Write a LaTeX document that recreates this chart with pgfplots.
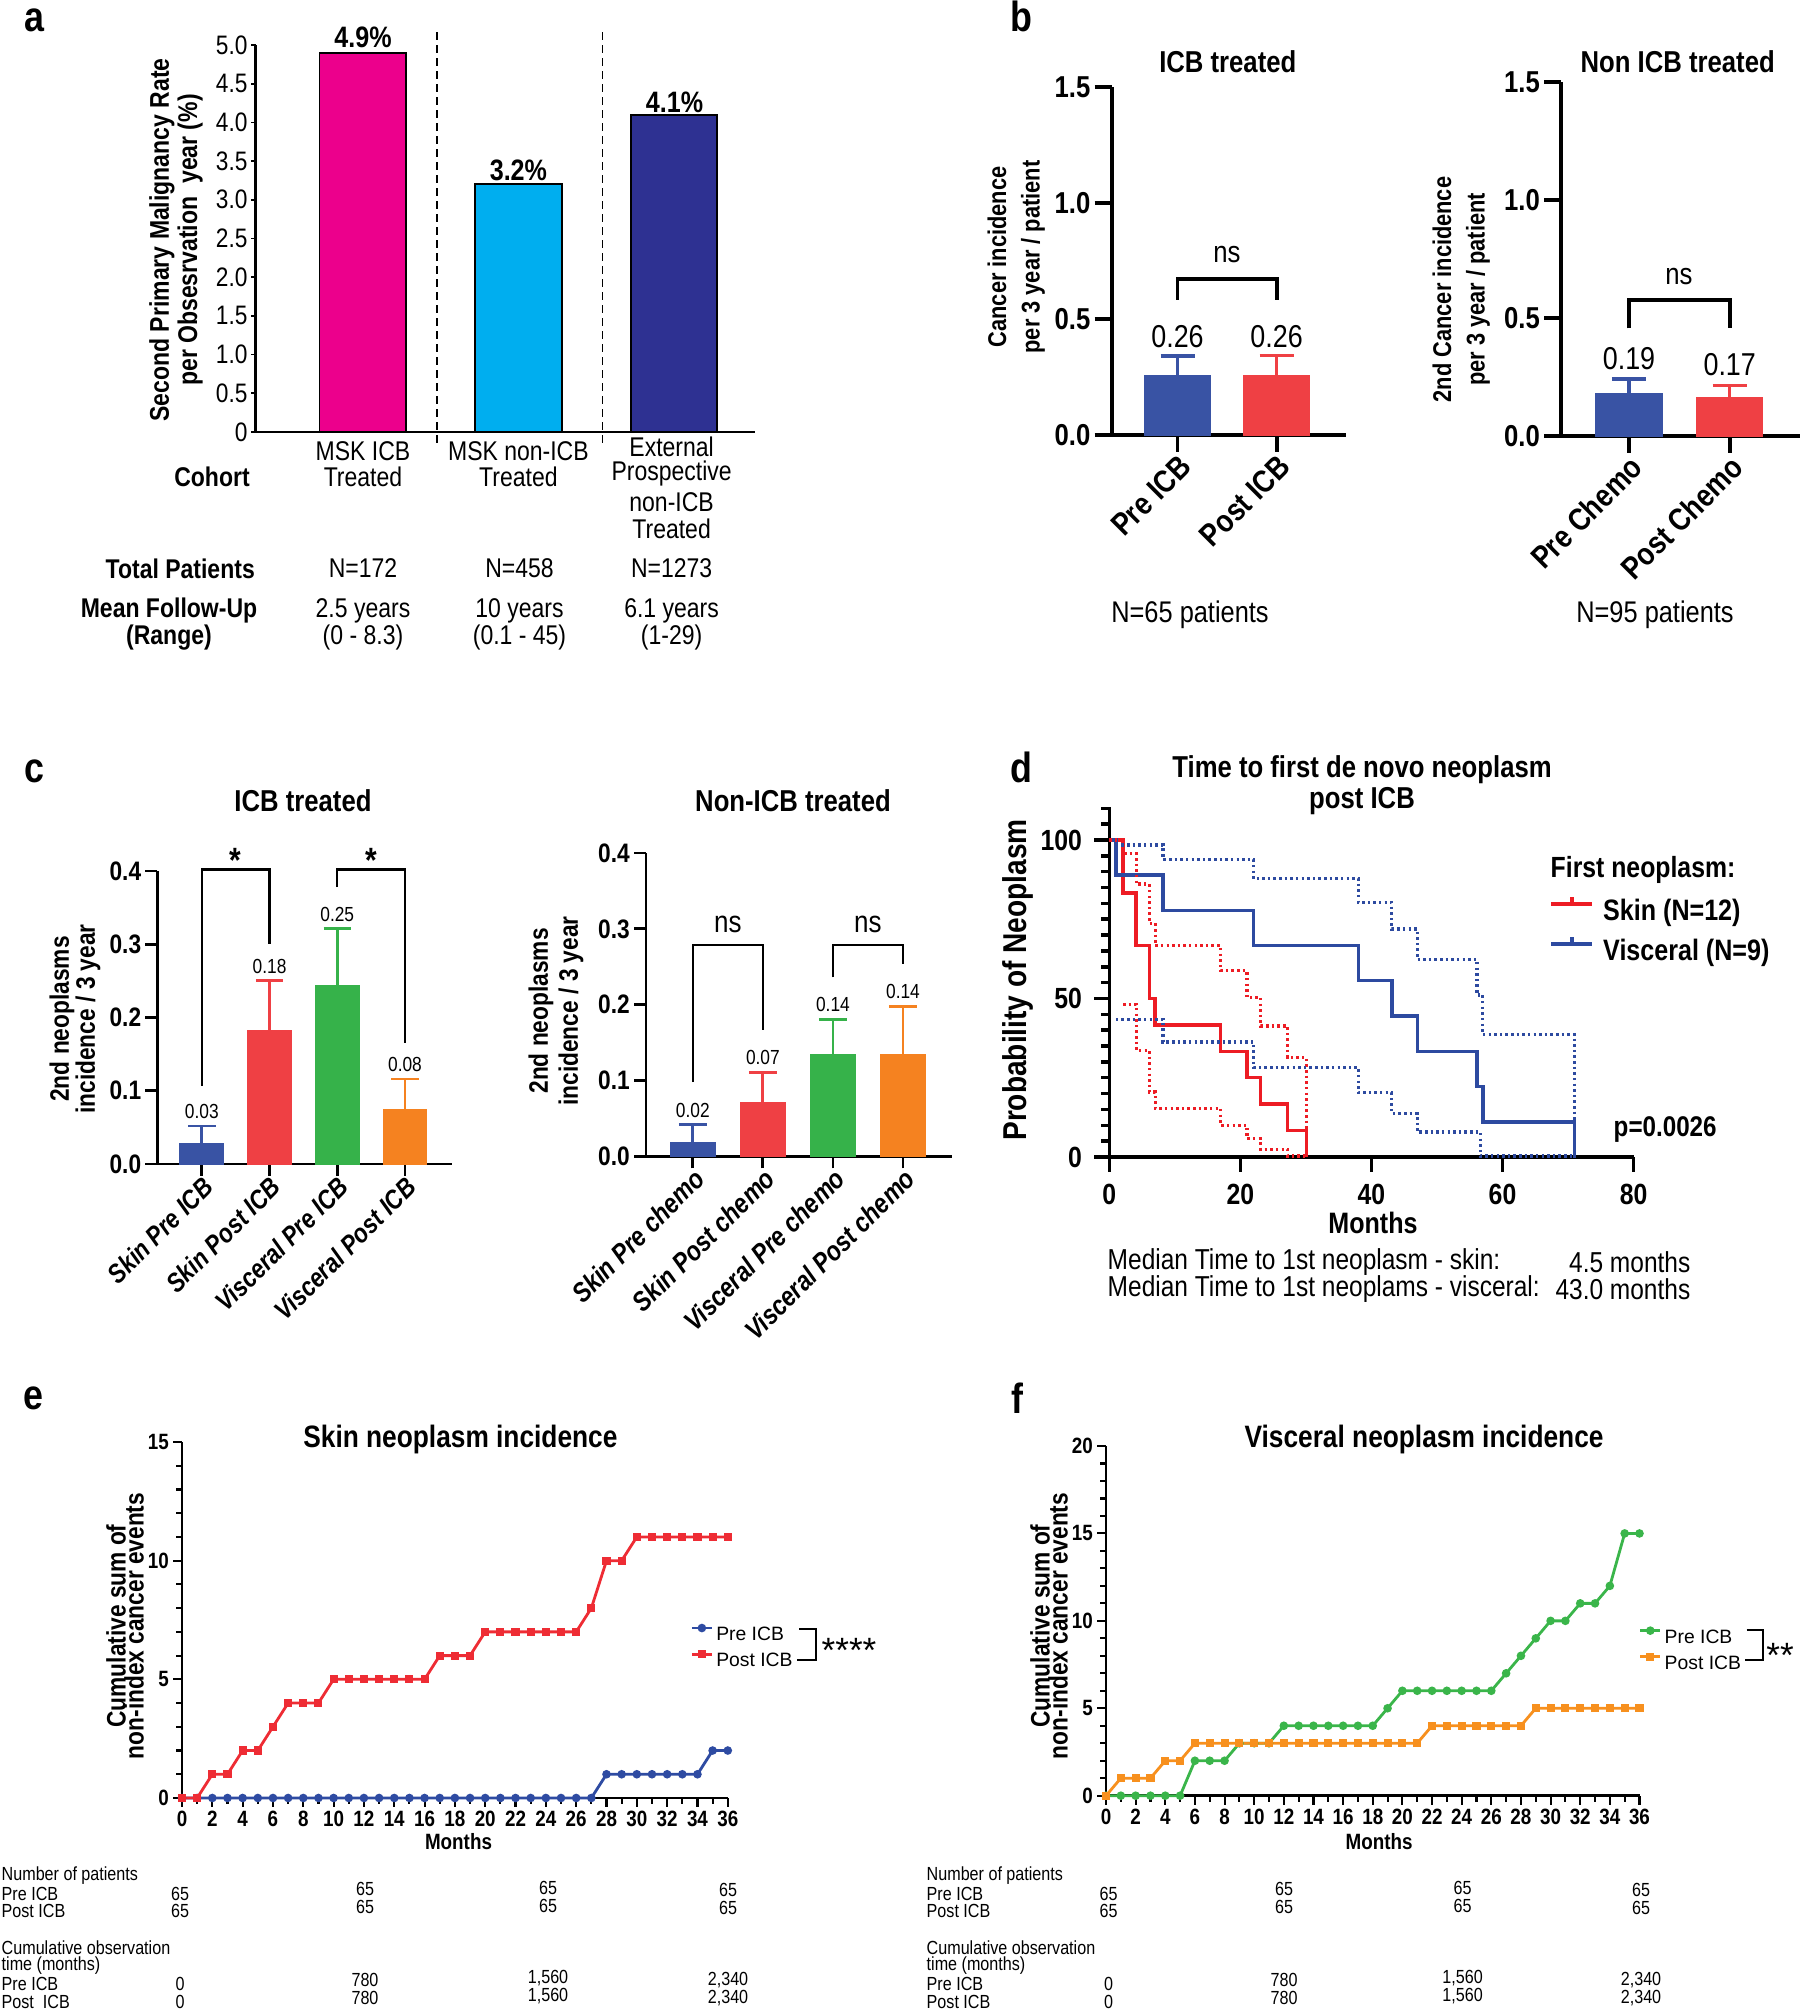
\documentclass[border=0pt]{standalone}
\usepackage{fontspec}
\setmainfont{Liberation Sans}[FakeStretch=0.85]
\newfontfamily\plainfont{Liberation Sans}
\usepackage{pgfplots}
\pgfplotsset{compat=1.18}
\newcommand{\fs}[1]{\fontsize{#1}{#1}\selectfont}
\newcommand{\tx}[4]{\node[inner sep=0pt,#1] at (#2,{2011-#3}) {#4};}
\definecolor{apink}{HTML}{EC008C}
\definecolor{acyan}{HTML}{00AEEF}
\definecolor{anavy}{HTML}{2E3192}
\definecolor{bblue}{HTML}{3953A4}
\definecolor{bred}{HTML}{EF4044}
\definecolor{cgreen}{HTML}{36B24A}
\definecolor{corange}{HTML}{F58220}
\definecolor{dred}{HTML}{ED1C24}
\definecolor{dblue}{HTML}{2D4AA0}
\definecolor{eblue}{HTML}{2E4BA2}
\definecolor{ered}{HTML}{EE2C34}
\definecolor{fgreen}{HTML}{3AB54A}
\definecolor{forange}{HTML}{F7901E}
\pgfplotsset{
  base/.style={scale only axis, anchor=south west, axis x line*=bottom, axis y line*=left,
    clip=false, tick align=outside, /pgf/number format/assume math mode=true,
    axis line style={black}, tick style={black}},
  onebar/.style={ybar, bar shift=0pt, bar width=#1},
  errb/.style n args={3}{/pgfplots/error bars/y dir=plus, /pgfplots/error bars/y explicit,
    /pgfplots/error bars/error bar style={#1, line width=#3},
    /pgfplots/error bars/error mark options={rotate=90, #1, line width=#3, mark size=#2}},
}
\begin{document}
\begin{tikzpicture}[x=0.1mm,y=0.1mm]
\path[use as bounding box] (0,0) rectangle (1800,2011);

%%%%%%%%%%%%%%%% PANEL A
\begin{axis}[base, at={(25.55mm,157.9mm)}, width=49.95mm, height=38.7mm,
  xmin=-0.69, xmax=2.52, ymin=0, ymax=5, xtick=\empty,
  ytick={0,0.5,1,1.5,2,2.5,3,3.5,4,4.5,5},
  yticklabels={0,0.5,1.0,1.5,2.0,2.5,3.0,3.5,4.0,4.5,5.0},
  yticklabel style={font=\fs{7.6pt}, inner sep=0.8pt},
  major tick length=0.45mm, axis line style={line width=0.6pt}, tick style={line width=0.5pt}]
\addplot[onebar=0.556, fill=apink, draw=black, line width=0.5pt] coordinates {(0,4.9)};
\addplot[onebar=0.556, fill=acyan, draw=black, line width=0.5pt] coordinates {(1,3.2)};
\addplot[onebar=0.556, fill=anavy, draw=black, line width=0.5pt] coordinates {(2,4.1)};
\draw[dash pattern=on 2.2pt off 1.5pt, line width=0.5pt] (axis cs:0.478,-0.14) -- (axis cs:0.478,5.22);
\draw[dash pattern=on 2.2pt off 1.5pt, line width=0.5pt] (axis cs:1.54,-0.14) -- (axis cs:1.54,5.22);
\end{axis}
\tx{font=\bfseries\fs{12pt}}{34}{20}{a}
\tx{font=\bfseries\fs{8.4pt}}{363}{37.5}{4.9\%}
\tx{font=\bfseries\fs{8.4pt}}{518.4}{170}{3.2\%}
\tx{font=\bfseries\fs{8.4pt}}{674.5}{102}{4.1\%}
\tx{font=\fs{7.7pt}}{363}{451}{MSK ICB}
\tx{font=\fs{7.7pt}}{363}{477}{Treated}
\tx{font=\fs{7.7pt}}{518.4}{451}{MSK non-ICB}
\tx{font=\fs{7.7pt}}{518.4}{477}{Treated}
\tx{font=\fs{7.7pt}}{671.6}{447}{External}
\tx{font=\fs{7.7pt}}{671.6}{474}{Prospective}
\tx{font=\fs{7.7pt}}{671.6}{502}{non-ICB}
\tx{font=\fs{7.7pt}}{671.6}{529}{Treated}
\tx{font=\bfseries\fs{7.7pt}}{212}{477}{Cohort}
\tx{font=\bfseries\fs{7.7pt}, anchor=east}{255.5}{568.5}{Total Patients}
\tx{font=\fs{7.7pt}}{363}{568.5}{N=172}
\tx{font=\fs{7.7pt}}{519.5}{568.5}{N=458}
\tx{font=\fs{7.7pt}}{671.6}{568.5}{N=1273}
\tx{font=\bfseries\fs{7.7pt}}{169}{611}{Mean Follow-Up}
\tx{font=\bfseries\fs{7.7pt}}{169}{638}{(Range)}
\tx{font=\fs{7.7pt}}{363}{611}{2.5 years}
\tx{font=\fs{7.7pt}}{363}{638}{(0 - 8.3)}
\tx{font=\fs{7.7pt}}{519.5}{611}{10 years}
\tx{font=\fs{7.7pt}}{519.5}{638}{(0.1 - 45)}
\tx{font=\fs{7.7pt}}{671.6}{611}{6.1 years}
\tx{font=\fs{7.7pt}}{671.6}{638}{(1-29)}
\tx{font=\bfseries\fs{7.7pt}, rotate=90}{162}{240}{Second Primary Malignancy Rate}
\tx{font=\bfseries\fs{7.7pt}, rotate=90}{190}{240}{per Obsesrvation\ \ year (\%)}

%%%%%%%%%%%%%%%% PANEL B (left)
\begin{axis}[base, at={(111.16mm,157.6mm)}, width=23.41mm, height=34.8mm,
  xmin=-0.665, xmax=1.697, ymin=0, ymax=1.5,
  xtick={0,1}, xticklabels={Pre ICB,Post ICB},
  xticklabel style={rotate=45, anchor=east, font=\bfseries\fs{9pt}, inner sep=1pt, yshift=-1.2mm, xshift=0.3mm},
  ytick={0,0.5,1,1.5},
  yticklabel style={font=\bfseries\fs{8.6pt}, inner sep=1pt, /pgf/number format/.cd, fixed, fixed zerofill, precision=1},
  major tick length=1.7mm, axis line style={line width=1.1pt}, tick style={line width=1.1pt}]
\addplot[onebar=0.66, fill=bblue, draw=bblue, errb={bblue}{1.7mm}{1pt}] coordinates {(0,0.255) +- (0,0.085)};
\addplot[onebar=0.66, fill=bred, draw=bred, errb={bred}{1.7mm}{1pt}] coordinates {(1,0.255) +- (0,0.088)};
\end{axis}
%%%%%%%%%%%%%%%% PANEL B (right)
\begin{axis}[base, at={(156.1mm,157.5mm)}, width=23.9mm, height=35.4mm,
  xmin=-0.675, xmax=1.70, ymin=0, ymax=1.5,
  xtick={0,1}, xticklabels={Pre Chemo,Post Chemo},
  xticklabel style={rotate=45, anchor=east, font=\bfseries\fs{9pt}, inner sep=1pt, yshift=-1.2mm, xshift=0.3mm},
  ytick={0,0.5,1,1.5},
  yticklabel style={font=\bfseries\fs{8.6pt}, inner sep=1pt, /pgf/number format/.cd, fixed, fixed zerofill, precision=1},
  major tick length=1.7mm, axis line style={line width=1.1pt}, tick style={line width=1.1pt}]
\addplot[onebar=0.66, fill=bblue, draw=bblue, errb={bblue}{1.7mm}{1pt}] coordinates {(0,0.178) +- (0,0.063)};
\addplot[onebar=0.66, fill=bred, draw=bred, errb={bred}{1.7mm}{1pt}] coordinates {(1,0.162) +- (0,0.051)};
\end{axis}
\tx{font=\bfseries\fs{12pt}}{1021.6}{16}{b}
\tx{font=\bfseries\fs{8.6pt}}{1227.8}{61.7}{ICB treated}
\tx{font=\bfseries\fs{8.6pt}}{1677.7}{61.7}{Non ICB treated}
\tx{font=\fs{9pt}}{1177.5}{337}{0.26}
\tx{font=\fs{9pt}}{1276.6}{337}{0.26}
\tx{font=\fs{8.6pt}}{1227}{255}{ns}
\draw[line width=1.1pt] (1177.5,{2011-300}) -- (1177.5,{2011-278.6}) -- (1276.6,{2011-278.6}) -- (1276.6,{2011-300});
\tx{font=\fs{9pt}}{1629}{359}{0.19}
\tx{font=\fs{9pt}}{1729.7}{364.6}{0.17}
\tx{font=\fs{8.6pt}}{1679}{276.5}{ns}
\draw[line width=1.1pt] (1629,{2011-328.5}) -- (1629,{2011-300}) -- (1729.7,{2011-300}) -- (1729.7,{2011-328.5});
\tx{font=\bfseries\fs{7.3pt}, rotate=90}{997}{257}{Cancer incidence}
\tx{font=\bfseries\fs{7.3pt}, rotate=90}{1033}{257}{per 3 year / patient}
\tx{font=\bfseries\fs{7.3pt}, rotate=90}{1442}{289.5}{2nd Cancer incidence}
\tx{font=\bfseries\fs{7.3pt}, rotate=90}{1478}{289.5}{per 3 year / patient}
\tx{font=\fs{8.5pt}}{1190}{615}{N=65 patients}
\tx{font=\fs{8.5pt}}{1655}{615}{N=95 patients}

%%%%%%%%%%%%%%%% PANEL C (left)
\begin{axis}[base, at={(15.74mm,84.7mm)}, width=29.46mm, height=29.3mm,
  xmin=-0.656, xmax=3.694, ymin=0, ymax=0.4,
  xtick={0,1,2,3}, xticklabels={Skin Pre ICB,Skin Post ICB,Visceral Pre ICB,Visceral Post ICB},
  xticklabel style={rotate=45, anchor=east, font=\bfseries\itshape\fs{7.6pt}, inner sep=1pt, yshift=-0.9mm, xshift=0.4mm},
  ytick={0,0.1,0.2,0.3,0.4},
  yticklabel style={font=\bfseries\fs{7.6pt}, inner sep=1pt, /pgf/number format/.cd, fixed, fixed zerofill, precision=1},
  major tick length=1.2mm, axis line style={line width=0.8pt}, tick style={line width=0.8pt}]
\addplot[onebar=0.643, fill=bblue, draw=bblue, errb={bblue}{1.37mm}{0.8pt}] coordinates {(0,0.028) +- (0,0.024)};
\addplot[onebar=0.643, fill=bred, draw=bred, errb={bred}{1.37mm}{0.8pt}] coordinates {(1,0.182) +- (0,0.068)};
\addplot[onebar=0.643, fill=cgreen, draw=cgreen, errb={cgreen}{1.37mm}{0.8pt}] coordinates {(2,0.243) +- (0,0.079)};
\addplot[onebar=0.643, fill=corange, draw=corange, errb={corange}{1.37mm}{0.8pt}] coordinates {(3,0.074) +- (0,0.042)};
\node[font=\fs{5.8pt}, inner sep=0pt] at (axis cs:0,0.072) {0.03};
\node[font=\fs{5.8pt}, inner sep=0pt] at (axis cs:1,0.269) {0.18};
\node[font=\fs{5.8pt}, inner sep=0pt] at (axis cs:2,0.341) {0.25};
\node[font=\fs{5.8pt}, inner sep=0pt] at (axis cs:3,0.136) {0.08};
\draw[line width=0.7pt] (axis cs:0,0.107) |- (axis cs:1,0.402) -- (axis cs:1,0.300);
\draw[line width=0.7pt] (axis cs:2,0.378) |- (axis cs:3,0.402) -- (axis cs:3,0.165);
\node[font=\bfseries\fs{10pt}, inner sep=0pt] at (axis cs:0.5,0.415) {*};
\node[font=\bfseries\fs{10pt}, inner sep=0pt] at (axis cs:2.5,0.415) {*};
\end{axis}
%%%%%%%%%%%%%%%% PANEL C (right)
\begin{axis}[base, at={(64.6mm,85.46mm)}, width=30.6mm, height=30.34mm,
  xmin=-0.669, xmax=3.70, ymin=0, ymax=0.4,
  xtick={0,1,2,3}, xticklabels={Skin Pre chemo,Skin Post chemo,Visceral Pre chemo,Visceral Post chemo},
  xticklabel style={rotate=45, anchor=east, font=\bfseries\itshape\fs{7.8pt}, inner sep=1pt, yshift=-0.9mm, xshift=0.5mm},
  ytick={0,0.1,0.2,0.3,0.4},
  yticklabel style={font=\bfseries\fs{7.6pt}, inner sep=1pt, /pgf/number format/.cd, fixed, fixed zerofill, precision=1},
  major tick length=1.2mm, axis line style={line width=0.8pt}, tick style={line width=0.8pt}]
\addplot[onebar=0.64, fill=bblue, draw=bblue, errb={bblue}{1.4mm}{0.8pt}] coordinates {(0,0.018) +- (0,0.024)};
\addplot[onebar=0.64, fill=bred, draw=bred, errb={bred}{1.4mm}{0.8pt}] coordinates {(1,0.071) +- (0,0.040)};
\addplot[onebar=0.64, fill=cgreen, draw=cgreen, errb={cgreen}{1.4mm}{0.8pt}] coordinates {(2,0.134) +- (0,0.047)};
\addplot[onebar=0.64, fill=corange, draw=corange, errb={corange}{1.4mm}{0.8pt}] coordinates {(3,0.134) +- (0,0.064)};
\node[font=\fs{5.8pt}, inner sep=0pt] at (axis cs:0,0.060) {0.02};
\node[font=\fs{5.8pt}, inner sep=0pt] at (axis cs:1,0.131) {0.07};
\node[font=\fs{5.8pt}, inner sep=0pt] at (axis cs:2,0.200) {0.14};
\node[font=\fs{5.8pt}, inner sep=0pt] at (axis cs:3,0.217) {0.14};
\draw[line width=0.7pt] (axis cs:0,0.098) |- (axis cs:1,0.279) -- (axis cs:1,0.167);
\draw[line width=0.7pt] (axis cs:2,0.236) |- (axis cs:3,0.279) -- (axis cs:3,0.253);
\node[font=\fs{8.7pt}, inner sep=0pt] at (axis cs:0.5,0.306) {ns};
\node[font=\fs{8.7pt}, inner sep=0pt] at (axis cs:2.5,0.306) {ns};
\end{axis}
\tx{font=\bfseries\fs{12pt}}{34}{771}{c}
\tx{font=\bfseries\fs{8.6pt}}{303}{800.8}{ICB treated}
\tx{font=\bfseries\fs{8.6pt}}{793}{800.8}{Non-ICB treated}
\tx{font=\bfseries\fs{7.6pt}, rotate=90}{62}{1019}{2nd neoplasms}
\tx{font=\bfseries\fs{7.6pt}, rotate=90}{88}{1019}{incidence / 3 year}
\tx{font=\bfseries\fs{7.6pt}, rotate=90}{541}{1011}{2nd neoplasms}
\tx{font=\bfseries\fs{7.6pt}, rotate=90}{571}{1011}{incidence / 3 year}

%%%%%%%%%%%%%%%% PANEL D
\begin{axis}[base, at={(110.93mm,85.4mm)}, width=52.43mm, height=35.03mm,
  xmin=0, xmax=80, ymin=0, ymax=110.5, xtick={0,20,40,60,80}, ytick={0,50,100},
  minor ytick={5,10,...,110},
  ticklabel style={font=\bfseries\fs{8.3pt}},
  major tick length=1.5mm, minor tick length=0.8mm,
  axis line style={line width=1pt}, tick style={line width=1pt},
  legend style={draw=none, fill=none, inner sep=0pt, outer sep=0pt, at={(axis cs:67.2,82.6)}, anchor=north west,
    font=\bfseries\fs{8.4pt}, row sep=0.9mm, column sep=0.9mm,
    nodes={inner sep=0pt, text height=2.1mm, text depth=0.6mm}},
  legend cell align=left,
  legend image code/.code={\draw[#1, solid] (0mm,0.9mm) -- (4.1mm,0.9mm); \draw[#1, solid] (2.05mm,0.9mm) -- (2.05mm,1.6mm);}]
\addplot[const plot, dred, line width=1pt] coordinates {(0,100)(2.1,83.3)(4.1,66.7)(6.1,50)(7.0,41.7)(17.0,33.3)(21.0,25)(23.1,16.7)(27.2,8.3)(30.1,0)};
\addlegendentry{Skin (N=12)}
\addplot[const plot, dblue, line width=1pt] coordinates {(0,100)(1.0,88.9)(8.2,77.8)(22.0,66.7)(38.0,55.6)(43.1,44.4)(47.0,33.3)(56.1,22.2)(57.0,11.1)(71.0,0)};
\addlegendentry{Visceral (N=9)}
\addplot[forget plot, const plot, dred, line width=0.9pt, dash pattern=on 0.7pt off 0.9pt] coordinates {(0,100)(2.1,95.8)(4.1,86.1)(6.1,73.7)(7.0,66.6)(17.0,58.7)(21.0,50.3)(23.1,41.3)(27.2,31.3)(30.1,0)};
\addplot[forget plot, const plot, dred, line width=0.9pt, dash pattern=on 0.7pt off 0.9pt] coordinates {(2.1,48.2)(4.1,33.7)(6.1,20.5)(7.0,15.3)(17.0,10)(21.0,5.8)(23.1,2.4)(27.2,0.3)(30.1,0.3)};
\addplot[forget plot, const plot, dblue, line width=0.9pt, dash pattern=on 0.7pt off 0.9pt] coordinates {(1.0,98.4)(8.2,93.9)(22.0,87.8)(38.0,80.3)(43.1,71.9)(47.0,62.3)(56.1,51.1)(57.0,38.6)(71.0,0)};
\addplot[forget plot, const plot, dblue, line width=0.9pt, dash pattern=on 0.7pt off 0.9pt] coordinates {(1.0,43.4)(8.2,36.3)(22.0,28.2)(38.0,20.3)(43.1,13.7)(47.0,7.9)(56.6,0.3)(71.0,0.3)};
\end{axis}
\tx{font=\bfseries\fs{12pt}}{1021}{767}{d}
\tx{font=\bfseries\fs{8.6pt}}{1362}{770}{Time to first de novo neoplasm}
\tx{font=\bfseries\fs{8.6pt}}{1362}{801}{post ICB}
\tx{font=\bfseries\fs{9.4pt}, rotate=90}{1018}{980}{Probability of Neoplasm}
\tx{font=\bfseries\fs{8.4pt}}{1373}{1223}{Months}
\tx{font=\bfseries\fs{8.3pt}, anchor=west}{1550}{870}{First neoplasm:}
\tx{font=\bfseries\fs{8.1pt}, anchor=west}{1613}{1130}{p=0.0026}
\tx{font=\fs{8.2pt}, anchor=west}{1107}{1262}{Median Time to 1st neoplasm - skin:}
\tx{font=\fs{8.2pt}, anchor=west}{1107}{1289}{Median Time to 1st neoplams - visceral:}
\tx{font=\fs{8.2pt}, anchor=east}{1691}{1262}{4.5 months}
\tx{font=\fs{8.2pt}, anchor=east}{1691}{1289}{43.0 months}

%%%%%%%%%%%%%%%% PANEL E
\begin{axis}[base, at={(18.2mm,21.3mm)}, width=54.58mm, height=35.6mm,
  xmin=0, xmax=36, ymin=0, ymax=15,
  xtick={0,2,...,36}, minor xtick={1,3,...,35},
  ytick={0,5,10,15}, minor ytick={1,2,3,4,6,7,8,9,11,12,13,14},
  ticklabel style={font=\bfseries\fs{6.3pt}, inner sep=1pt},
  major tick length=0.9mm, minor tick length=0.6mm,
  axis line style={line width=0.8pt}, tick style={line width=0.6pt},
  legend style={draw=none, fill=none, inner sep=0pt, outer sep=0pt, at={(axis cs:33.54,7.28)}, anchor=north west,
    font=\plainfont\fs{5.5pt}, row sep=0.7mm, column sep=0.3mm,
    nodes={inner sep=0pt, text height=1.5mm, text depth=0.4mm}},
  legend cell align=left,
  legend image code/.code={\draw[mark repeat=2, mark phase=2, #1] plot coordinates {(0mm,0.7mm) (1mm,0.7mm) (2mm,0.7mm)};}]
\addplot[eblue, line width=0.8pt, mark=*, mark size=0.8pt] coordinates {(0,0)(1,0)(2,0)(3,0)(4,0)(5,0)(6,0)(7,0)(8,0)(9,0)(10,0)(11,0)(12,0)(13,0)(14,0)(15,0)(16,0)(17,0)(18,0)(19,0)(20,0)(21,0)(22,0)(23,0)(24,0)(25,0)(26,0)(27,0)(28,1)(29,1)(30,1)(31,1)(32,1)(33,1)(34,1)(35,2)(36,2)};
\addlegendentry{Pre ICB}
\addplot[ered, line width=0.8pt, mark=square*, mark size=0.75pt] coordinates {(0,0)(1,0)(2,1)(3,1)(4,2)(5,2)(6,3)(7,4)(8,4)(9,4)(10,5)(11,5)(12,5)(13,5)(14,5)(15,5)(16,5)(17,6)(18,6)(19,6)(20,7)(21,7)(22,7)(23,7)(24,7)(25,7)(26,7)(27,8)(28,10)(29,10)(30,11)(31,11)(32,11)(33,11)(34,11)(35,11)(36,11)};
\addlegendentry{Post ICB}
\end{axis}
\tx{font=\bfseries\fs{12pt}}{33}{1398}{e}
\tx{font=\bfseries\fs{8.8pt}}{460.4}{1440}{Skin neoplasm incidence}
\tx{font=\bfseries\fs{6.3pt}}{458.5}{1841.7}{Months}
\tx{font=\bfseries\fs{7.6pt}, rotate=90}{116}{1626}{Cumulative sum of}
\tx{font=\bfseries\fs{7.6pt}, rotate=90}{134}{1626}{non-index cancer events}
\draw[line width=0.6pt] (799,{2011-1629}) -- (816,{2011-1629}) -- (816,{2011-1660}) -- (796.7,{2011-1660});
\tx{font=\plainfont\fs{10pt}}{849}{1650}{****}
% table e
\tx{font=\fs{5.4pt}, anchor=west}{1}{1876}{Number of patients}
\tx{font=\fs{5.4pt}, anchor=west}{1}{1893.5}{Pre ICB}
\tx{font=\fs{5.4pt}, anchor=west}{1}{1911}{Post ICB}
\tx{font=\fs{5.4pt}, anchor=west}{1}{1948}{Cumulative observation}
\tx{font=\fs{5.4pt}, anchor=west}{1}{1966}{time (months)}
\tx{font=\fs{5.4pt}, anchor=west}{1}{1984}{Pre ICB}
\tx{font=\fs{5.4pt}, anchor=west}{1}{2002}{Post\ \ ICB}
\tx{font=\fs{5.4pt}}{180}{1893.5}{65}
\tx{font=\fs{5.4pt}}{180}{1911}{65}
\tx{font=\fs{5.4pt}}{365}{1889}{65}
\tx{font=\fs{5.4pt}}{365}{1907}{65}
\tx{font=\fs{5.4pt}}{548}{1888}{65}
\tx{font=\fs{5.4pt}}{548}{1906}{65}
\tx{font=\fs{5.4pt}}{728}{1890}{65}
\tx{font=\fs{5.4pt}}{728}{1908}{65}
\tx{font=\fs{5.4pt}}{180}{1984}{0}
\tx{font=\fs{5.4pt}}{180}{2002}{0}
\tx{font=\fs{5.4pt}}{365}{1980}{780}
\tx{font=\fs{5.4pt}}{365}{1998}{780}
\tx{font=\fs{5.4pt}}{548}{1978}{1,560}
\tx{font=\fs{5.4pt}}{548}{1996}{1,560}
\tx{font=\fs{5.4pt}}{728}{1980}{2,340}
\tx{font=\fs{5.4pt}}{728}{1998}{2,340}

%%%%%%%%%%%%%%%% PANEL F
\begin{axis}[base, at={(110.6mm,21.53mm)}, width=53.35mm, height=34.97mm,
  xmin=0, xmax=36, ymin=0, ymax=20,
  xtick={0,2,...,36}, minor xtick={1,3,...,35},
  ytick={0,5,10,15,20}, minor ytick={1,2,3,4,6,7,8,9,11,12,13,14,16,17,18,19},
  ticklabel style={font=\bfseries\fs{6.3pt}, inner sep=1pt},
  major tick length=0.9mm, minor tick length=0.6mm,
  axis line style={line width=0.8pt}, tick style={line width=0.6pt},
  legend style={draw=none, fill=none, inner sep=0pt, outer sep=0pt, at={(axis cs:35.96,9.6)}, anchor=north west,
    font=\plainfont\fs{5.5pt}, row sep=0.7mm, column sep=0.3mm,
    nodes={inner sep=0pt, text height=1.5mm, text depth=0.4mm}},
  legend cell align=left,
  legend image code/.code={\draw[mark repeat=2, mark phase=2, #1] plot coordinates {(0mm,0.7mm) (1mm,0.7mm) (2mm,0.7mm)};}]
\addplot[fgreen, line width=0.8pt, mark=*, mark size=0.8pt] coordinates {(0,0)(1,0)(2,0)(3,0)(4,0)(5,0)(6,2)(7,2)(8,2)(9,3)(10,3)(11,3)(12,4)(13,4)(14,4)(15,4)(16,4)(17,4)(18,4)(19,5)(20,6)(21,6)(22,6)(23,6)(24,6)(25,6)(26,6)(27,7)(28,8)(29,9)(30,10)(31,10)(32,11)(33,11)(34,12)(35,15)(36,15)};
\addlegendentry{Pre ICB}
\addplot[forange, line width=0.8pt, mark=square*, mark size=0.75pt] coordinates {(0,0)(1,1)(2,1)(3,1)(4,2)(5,2)(6,3)(7,3)(8,3)(9,3)(10,3)(11,3)(12,3)(13,3)(14,3)(15,3)(16,3)(17,3)(18,3)(19,3)(20,3)(21,3)(22,4)(23,4)(24,4)(25,4)(26,4)(27,4)(28,4)(29,5)(30,5)(31,5)(32,5)(33,5)(34,5)(35,5)(36,5)};
\addlegendentry{Post ICB}
\end{axis}
\tx{font=\bfseries\fs{12pt}}{1017}{1398}{f}
\tx{font=\bfseries\fs{8.8pt}}{1424}{1440}{Visceral neoplasm incidence}
\tx{font=\bfseries\fs{6.3pt}}{1379}{1841.7}{Months}
\tx{font=\bfseries\fs{7.6pt}, rotate=90}{1040}{1626}{Cumulative sum of}
\tx{font=\bfseries\fs{7.6pt}, rotate=90}{1058}{1626}{non-index cancer events}
\draw[line width=0.6pt] (1746.7,{2011-1630}) -- (1762.7,{2011-1630}) -- (1762.7,{2011-1660}) -- (1745,{2011-1660});
\tx{font=\plainfont\fs{10pt}}{1780}{1655}{**}
% table f
\tx{font=\fs{5.4pt}, anchor=west}{926}{1876}{Number of patients}
\tx{font=\fs{5.4pt}, anchor=west}{926}{1893.5}{Pre ICB}
\tx{font=\fs{5.4pt}, anchor=west}{926}{1911}{Post ICB}
\tx{font=\fs{5.4pt}, anchor=west}{926}{1948}{Cumulative observation}
\tx{font=\fs{5.4pt}, anchor=west}{926}{1966}{time (months)}
\tx{font=\fs{5.4pt}, anchor=west}{926}{1984}{Pre ICB}
\tx{font=\fs{5.4pt}, anchor=west}{926}{2002}{Post ICB}
\tx{font=\fs{5.4pt}}{1108.5}{1893.5}{65}
\tx{font=\fs{5.4pt}}{1108.5}{1911}{65}
\tx{font=\fs{5.4pt}}{1284}{1889}{65}
\tx{font=\fs{5.4pt}}{1284}{1907}{65}
\tx{font=\fs{5.4pt}}{1462.6}{1888}{65}
\tx{font=\fs{5.4pt}}{1462.6}{1906}{65}
\tx{font=\fs{5.4pt}}{1641}{1890}{65}
\tx{font=\fs{5.4pt}}{1641}{1908}{65}
\tx{font=\fs{5.4pt}}{1108.5}{1984}{0}
\tx{font=\fs{5.4pt}}{1108.5}{2002}{0}
\tx{font=\fs{5.4pt}}{1284}{1980}{780}
\tx{font=\fs{5.4pt}}{1284}{1998}{780}
\tx{font=\fs{5.4pt}}{1462.6}{1978}{1,560}
\tx{font=\fs{5.4pt}}{1462.6}{1996}{1,560}
\tx{font=\fs{5.4pt}}{1641}{1980}{2,340}
\tx{font=\fs{5.4pt}}{1641}{1998}{2,340}
\end{tikzpicture}
\end{document}
